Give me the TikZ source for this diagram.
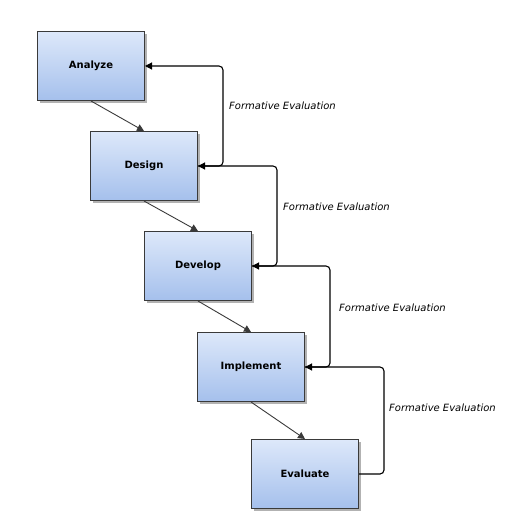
\documentclass[tikz,border=0pt]{standalone}
\usepackage{fontspec}
\setmainfont{DejaVu Sans}
\usepackage{xcolor}
\usepackage{tikz}
\usetikzlibrary{arrows.meta,shadows}
\definecolor{boxtop}{HTML}{DDE8FA}
\definecolor{boxbottom}{HTML}{A5C0EC}
\definecolor{boxline}{HTML}{3A3A3A}

\begin{document}
\begin{tikzpicture}[x=1bp, y=-1bp,
  phase/.style={rectangle, draw=boxline, line width=1bp, top color=boxtop, bottom color=boxbottom,
    minimum width=107bp, minimum height=69bp, font=\fontsize{10bp}{12bp}\selectfont\bfseries,
    drop shadow={shadow xshift=2.5bp, shadow yshift=-2.5bp, fill=black, opacity=0.3}},
  arrow/.style={-{Triangle[length=7bp, width=7bp]}, line width=0.9bp, draw=boxline},
  feedback/.style={-{Triangle[length=7bp, width=7bp]}, line width=1.1bp, rounded corners=4bp},
  note/.style={font=\fontsize{10bp}{12bp}\selectfont\itshape, anchor=west, inner sep=0pt}
]
  \useasboundingbox (0,0) rectangle (520,521);
  \node[phase] (analyze) at (91, 66) {Analyze};
  \node[phase] (design) at (144, 166) {Design};
  \node[phase] (develop) at (198, 266) {Develop};
  \node[phase] (implement) at (251, 367) {Implement};
  \node[phase] (evaluate) at (305, 474) {Evaluate};

  \draw[arrow] (analyze.south) -- (design.north);
  \draw[arrow] (design.south) -- (develop.north);
  \draw[arrow] (develop.south) -- (implement.north);
  \draw[arrow] (implement.south) -- (evaluate.north);

  \draw[feedback] (design.east) -- ++(25,0) |- (analyze.east);
  \draw[feedback] (develop.east) -- ++(25,0) |- (design.east);
  \draw[feedback] (implement.east) -- ++(25,0) |- (develop.east);
  \draw[feedback] (evaluate.east) -- ++(25,0) |- (implement.east);

  \node[note] (fe1) at (229, 106) {Formative Evaluation};
  \node[note] (fe2) at (283, 207) {Formative Evaluation};
  \node[note] (fe3) at (339, 308) {Formative Evaluation};
  \node[note] (fe4) at (389, 408) {Formative Evaluation};
\end{tikzpicture}
\end{document}
